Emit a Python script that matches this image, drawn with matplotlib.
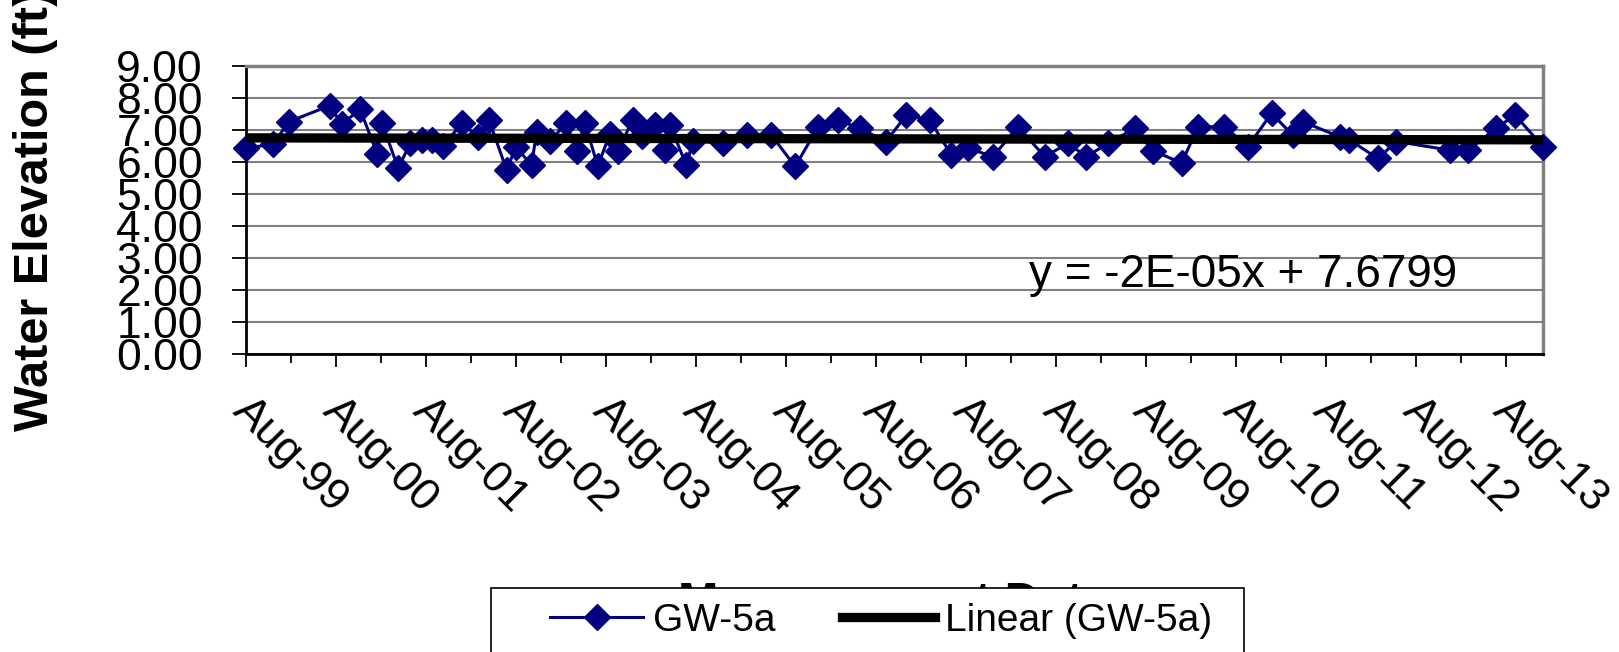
import matplotlib
matplotlib.use("Agg")
import matplotlib.pyplot as plt
import matplotlib.dates as mdates
import matplotlib.transforms as mtransforms
from matplotlib.patches import Rectangle
from matplotlib.lines import Line2D
from datetime import datetime
import numpy as np

plt.rcParams['font.family'] = ['Liberation Sans', 'DejaVu Sans']

dates = ["1999-08-01", "1999-11-18", "2000-01-23", "2000-07-05", "2000-08-24",
         "2000-11-06", "2001-01-15", "2001-02-03", "2001-04-10", "2001-05-28",
         "2001-07-14", "2001-08-24", "2001-10-09", "2001-12-24", "2002-02-28",
         "2002-04-14", "2002-06-24", "2002-08-01", "2002-10-03", "2002-10-24",
         "2002-12-18", "2003-02-20", "2003-04-04", "2003-05-08", "2003-06-29",
         "2003-08-17", "2003-09-18", "2003-11-18", "2003-12-25", "2004-02-15",
         "2004-03-27", "2004-04-16", "2004-06-23", "2004-07-19", "2004-11-19",
         "2005-02-22", "2005-06-03", "2005-09-07", "2005-12-10", "2006-03-01",
         "2006-05-28", "2006-09-11", "2006-12-03", "2007-03-08", "2007-06-03",
         "2007-08-10", "2007-11-19", "2008-02-29", "2008-06-16", "2008-09-19",
         "2008-12-02", "2009-02-28", "2009-06-16", "2009-08-30", "2009-12-24",
         "2010-03-01", "2010-06-16", "2010-09-19", "2010-12-24", "2011-03-20",
         "2011-04-30", "2011-09-26", "2011-11-05", "2012-02-29", "2012-05-14",
         "2012-12-17", "2013-02-28", "2013-06-23", "2013-09-07", "2013-12-30"]
elev = [6.43, 6.56, 7.26, 7.76, 7.18,
        7.65, 6.25, 7.22, 5.80, 6.58,
        6.69, 6.69, 6.50, 7.21, 6.79,
        7.30, 5.75, 6.47, 5.90, 6.95,
        6.65, 7.22, 6.35, 7.21, 5.87,
        6.88, 6.35, 7.31, 6.80, 7.15,
        6.37, 7.16, 5.90, 6.66, 6.58,
        6.84, 6.84, 5.86, 7.10, 7.31,
        7.05, 6.64, 7.47, 7.31, 6.22,
        6.43, 6.17, 7.10, 6.17, 6.58,
        6.17, 6.58, 7.05, 6.35, 5.97,
        7.10, 7.10, 6.48, 7.52, 6.84,
        7.26, 6.79, 6.69, 6.11, 6.64,
        6.37, 6.37, 7.05, 7.47, 6.48]
yticks = [0, 1, 2, 3, 4, 5, 6, 7, 8, 9]

x = [datetime.strptime(d, "%Y-%m-%d") for d in dates]
xn = mdates.date2num(x)
coef = np.polyfit(xn, elev, 1)
trend = np.polyval(coef, xn)

navy = "#000080"
fig = plt.figure(figsize=(16.19, 6.52), dpi=100)
ax = fig.add_axes([246 / 1619, 1 - 354 / 652, 1297 / 1619, 288 / 652])

ax.plot(x, elev, color=navy, lw=2.2, marker="D", ms=13.5, mfc=navy, mec=navy,
        clip_on=False, zorder=3)
ax.plot([x[0], x[-1]], [trend[0], trend[-1]], color="black", lw=6.7,
        solid_capstyle="butt", zorder=4)

ax.set_xlim(x[0], x[-1])
ax.set_ylim(0, 9)
ax.set_yticks(yticks)
ax.set_yticklabels(["%.2f" % v for v in yticks])
ax.yaxis.grid(True, color="#808080", lw=1.5)
ax.set_axisbelow(True)

ax.xaxis.set_major_locator(mdates.MonthLocator(bymonth=8, bymonthday=1))
ax.xaxis.set_minor_locator(mdates.MonthLocator(bymonth=2, bymonthday=1))
ax.xaxis.set_major_formatter(mdates.DateFormatter("%b-%y"))

ax.tick_params(axis="y", which="major", direction="out", length=10, width=1.3,
               labelsize=32, pad=21)
ax.tick_params(axis="x", which="major", direction="out", length=9, width=1.3,
               labelsize=32, pad=20)
ax.tick_params(axis="x", which="minor", direction="out", length=6.5, width=1.3)
shift = mtransforms.ScaledTranslation(0.08, 0.04, fig.dpi_scale_trans)
for lab in ax.get_xticklabels():
    lab.set_rotation(-45)
    lab.set_ha("left")
    lab.set_va("top")
    lab.set_rotation_mode("anchor")
    lab.set_transform(lab.get_transform() + shift)

for s in ["top", "right"]:
    ax.spines[s].set_color("#808080")
    ax.spines[s].set_linewidth(2.5)
for s in ["left", "bottom"]:
    ax.spines[s].set_color("black")
    ax.spines[s].set_linewidth(2)

ax.text(0.604, 0.274, "y = -2E-05x + 7.6799", transform=ax.transAxes,
        fontsize=33, ha="left", va="center")

fig.text(36 / 1619, 1 - 210 / 652, "Water Elevation (ft)", rotation=90,
         fontsize=35, fontweight="bold", ha="center", va="center")
fig.text(894 / 1619, 1 - 616 / 652, "Measurement Date", fontsize=35,
         fontweight="bold", ha="center", va="baseline")

box = Rectangle((491 / 1619, 1 - 700 / 652), 753 / 1619, 112 / 652,
                transform=fig.transFigure, facecolor="white", edgecolor="black",
                lw=1.2, zorder=4)
fig.patches.append(box)

handles = [Line2D([], [], color=navy, lw=2.2, marker="D", ms=13, mfc=navy, mec=navy),
           Line2D([], [], color="black", lw=6.7)]
leg = fig.legend(handles, ["GW-5a", "Linear (GW-5a)"], loc="center left",
                 bbox_to_anchor=(550 / 1619, 1 - 621 / 652), frameon=False,
                 fontsize=28, ncol=2, handlelength=2.4, handletextpad=0.25,
                 columnspacing=1.7, borderpad=0, borderaxespad=0, numpoints=1)
leg.set_zorder(5)

fig.savefig("out.png", dpi=100)
